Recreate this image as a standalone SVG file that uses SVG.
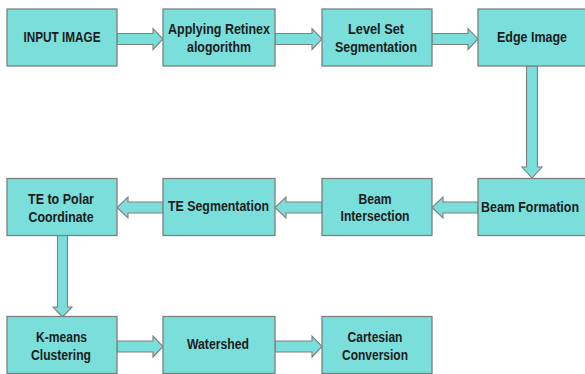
<svg xmlns="http://www.w3.org/2000/svg" width="585" height="374" viewBox="0 0 585 374">
<style>
.box{fill:#7adedb;stroke:#7f7f7f;stroke-width:1.3}
.arr{fill:#7adedb;stroke:#7f7f7f;stroke-width:1.1;stroke-linejoin:miter}
text{font-family:"Liberation Sans Narrow","Liberation Sans",Arial,sans-serif;font-weight:bold;font-size:14.5px;fill:#1c1c1c;text-anchor:middle}
</style>
<rect width="585" height="374" fill="#ffffff"/>
<g id="connectors">
<polygon class="arr" points="117,33.5 153,33.5 153,28.5 163,39 153,49.5 153,44.5 117,44.5"/>
<polygon class="arr" points="275,33.5 312,33.5 312,28.5 322,39 312,49.5 312,44.5 275,44.5"/>
<polygon class="arr" points="432,33.5 468,33.5 468,28.5 478,39 468,49.5 468,44.5 432,44.5"/>
<polygon class="arr" points="526.5,66 537.5,66 537.5,167 542,167 532,178 522,167 526.5,167"/>
<polygon class="arr" points="478,202 443,202 443,197 432,207.5 443,218 443,213 478,213"/>
<polygon class="arr" points="322,202 286,202 286,197 275,207.5 286,218 286,213 322,213"/>
<polygon class="arr" points="163,202 128,202 128,197 117,207.5 128,218 128,213 163,213"/>
<polygon class="arr" points="57.5,235 67.5,235 67.5,307 72,307 62.5,317 53,307 57.5,307"/>
<polygon class="arr" points="117,341 153,341 153,336 163,346.5 153,357 153,352 117,352"/>
<polygon class="arr" points="275,341 312,341 312,336 322,346.5 312,357 312,352 275,352"/>
</g>
<g id="input-image"><rect class="box" x="7" y="9" width="110" height="57"/><text x="62" y="42" textLength="77" lengthAdjust="spacingAndGlyphs">INPUT IMAGE</text></g>
<g id="retinex"><rect class="box" x="163" y="9" width="112" height="57"/><text x="219" y="33.5" textLength="102" lengthAdjust="spacingAndGlyphs">Applying Retinex</text><text x="219" y="51.5" textLength="64" lengthAdjust="spacingAndGlyphs">alogorithm</text></g>
<g id="level-set"><rect class="box" x="322" y="9" width="110" height="57"/><text x="376" y="33.5" textLength="56" lengthAdjust="spacingAndGlyphs">Level Set</text><text x="376" y="51.5" textLength="82" lengthAdjust="spacingAndGlyphs">Segmentation</text></g>
<g id="edge-image"><rect class="box" x="478" y="9" width="112" height="57"/><text x="532" y="42" textLength="70" lengthAdjust="spacingAndGlyphs">Edge Image</text></g>
<g id="beam-formation"><rect class="box" x="478" y="178.5" width="112" height="57"/><text x="530" y="211.5" textLength="98" lengthAdjust="spacingAndGlyphs">Beam Formation</text></g>
<g id="beam-intersection"><rect class="box" x="322" y="178.5" width="110" height="57"/><text x="375" y="203.5" textLength="33" lengthAdjust="spacingAndGlyphs">Beam</text><text x="375" y="221" textLength="69" lengthAdjust="spacingAndGlyphs">Intersection</text></g>
<g id="te-segmentation"><rect class="box" x="163" y="178.5" width="112" height="57"/><text x="218.5" y="211" textLength="101" lengthAdjust="spacingAndGlyphs">TE Segmentation</text></g>
<g id="te-polar"><rect class="box" x="7" y="178.5" width="110" height="57"/><text x="61" y="203.5" textLength="66" lengthAdjust="spacingAndGlyphs">TE to Polar</text><text x="61" y="221.5" textLength="65" lengthAdjust="spacingAndGlyphs">Coordinate</text></g>
<g id="k-means"><rect class="box" x="7" y="316.5" width="110" height="57"/><text x="61.5" y="341.5" textLength="51" lengthAdjust="spacingAndGlyphs">K-means</text><text x="61" y="359.5" textLength="60" lengthAdjust="spacingAndGlyphs">Clustering</text></g>
<g id="watershed"><rect class="box" x="163" y="316.5" width="112" height="57"/><text x="218" y="349" textLength="62" lengthAdjust="spacingAndGlyphs">Watershed</text></g>
<g id="cartesian"><rect class="box" x="322" y="316.5" width="110" height="57"/><text x="375" y="341.5" textLength="55" lengthAdjust="spacingAndGlyphs">Cartesian</text><text x="375" y="359.5" textLength="66" lengthAdjust="spacingAndGlyphs">Conversion</text></g>
</svg>
